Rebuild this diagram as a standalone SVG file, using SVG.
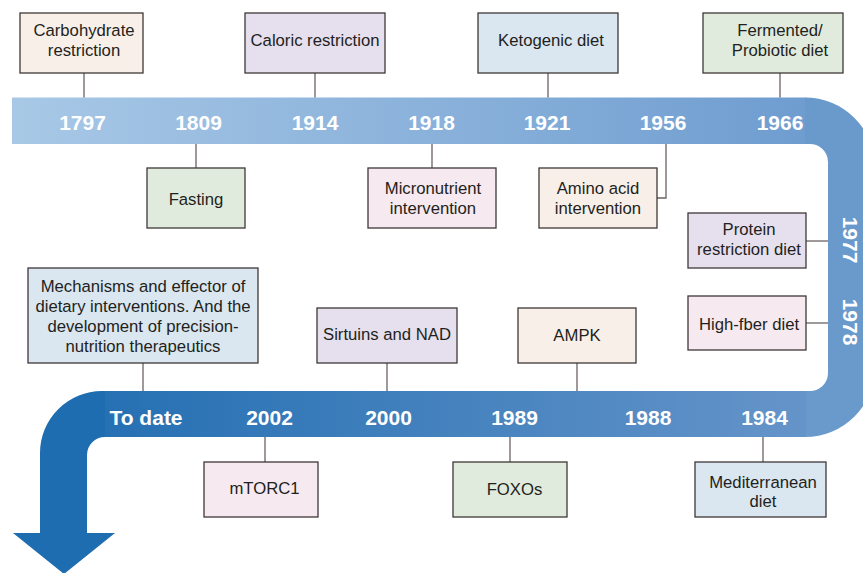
<svg xmlns="http://www.w3.org/2000/svg" width="863" height="573" viewBox="0 0 863 573">
<defs>
<linearGradient id="gTop" x1="12" y1="0" x2="805" y2="0" gradientUnits="userSpaceOnUse">
<stop offset="0" stop-color="#a8c8e6"/>
<stop offset="1" stop-color="#6f9dd0"/>
</linearGradient>
<linearGradient id="gBot" x1="805" y1="0" x2="100" y2="0" gradientUnits="userSpaceOnUse">
<stop offset="0" stop-color="#6594c9"/>
<stop offset="1" stop-color="#2570b3"/>
</linearGradient>
<style>
.box{stroke:#3f3838;stroke-width:1.3}
.peach{fill:#f8efe9}.lav{fill:#e6dfee}.green{fill:#e0ebdd}.pink{fill:#f6e9ef}.blue{fill:#dae6f0}
.t{font-family:"Liberation Sans",Arial,sans-serif;font-size:16.7px;fill:#231f20;text-anchor:middle}
.yr{font-family:"Liberation Sans",Arial,sans-serif;font-size:21px;font-weight:bold;fill:#ffffff;text-anchor:middle}
.con{stroke:#6b6262;stroke-width:1.3;fill:none}
</style>
</defs>
<g id="timeline">
<rect x="12" y="97.5" width="794" height="46.5" fill="url(#gTop)"/>
<path d="M805,97.5 A70,70 0 0 1 875,167.5 L875,367 A70,70 0 0 1 805,437 L805,391 L810,391 A18,18 0 0 0 828,373 L828,162 A18,18 0 0 0 810,144 L805,144 Z" fill="#6a99cc"/>
<rect x="100" y="391" width="706" height="46" fill="url(#gBot)"/>
<path d="M105,391 L105,437 A18,18 0 0 0 87,455 L87,533 L115,533 L64,574 L13,533 L40,533 L40,453 A62,62 0 0 1 102,391 Z" fill="#1f6db1"/>
</g>
<g id="years">
<text class="yr" x="82.5" y="129.5">1797</text>
<text class="yr" x="198.5" y="129.5">1809</text>
<text class="yr" x="315" y="129.5">1914</text>
<text class="yr" x="431.5" y="129.5">1918</text>
<text class="yr" x="547" y="129.5">1921</text>
<text class="yr" x="663" y="129.5">1956</text>
<text class="yr" x="780" y="129.5">1966</text>
<text class="yr" transform="translate(843,240) rotate(90)" x="0" y="0">1977</text>
<text class="yr" transform="translate(843,322) rotate(90)" x="0" y="0">1978</text>
<text class="yr" x="764.5" y="425">1984</text>
<text class="yr" x="648" y="425">1988</text>
<text class="yr" x="514.5" y="425">1989</text>
<text class="yr" x="388.5" y="425">2000</text>
<text class="yr" x="269.5" y="425">2002</text>
<text class="yr" x="146" y="425">To date</text>
</g>
<g id="connectors">
<line class="con" x1="84" y1="73" x2="84" y2="97.5"/>
<line class="con" x1="315" y1="73" x2="315" y2="97.5"/>
<line class="con" x1="548" y1="73" x2="548" y2="97.5"/>
<line class="con" x1="780" y1="73" x2="780" y2="97.5"/>
<line class="con" x1="196" y1="144" x2="196" y2="168"/>
<line class="con" x1="432" y1="144" x2="432" y2="168"/>
<polyline class="con" points="666,144 666,198 657,198"/>
<line class="con" x1="806" y1="241" x2="828" y2="241"/>
<line class="con" x1="806" y1="323" x2="828" y2="323"/>
<line class="con" x1="143" y1="363" x2="143" y2="391"/>
<line class="con" x1="387" y1="363" x2="387" y2="391"/>
<line class="con" x1="577" y1="363" x2="577" y2="391"/>
<line class="con" x1="265" y1="437" x2="265" y2="462"/>
<line class="con" x1="510" y1="437" x2="510" y2="462"/>
<line class="con" x1="763" y1="437" x2="763" y2="462"/>
</g>
<g id="n-carbohydrate">
<rect class="box peach" x="20" y="13" width="123" height="60"/>
<text class="t" x="84" y="36">Carbohydrate</text>
<text class="t" x="84" y="56">restriction</text>
</g>
<g id="n-caloric">
<rect class="box lav" x="245" y="13" width="140" height="60"/>
<text class="t" x="315" y="45.5">Caloric restriction</text>
</g>
<g id="n-ketogenic">
<rect class="box blue" x="478" y="13" width="140" height="60"/>
<text class="t" x="551" y="45.5">Ketogenic diet</text>
</g>
<g id="n-fermented">
<rect class="box green" x="703" y="13" width="140" height="60"/>
<text class="t" x="780" y="36">Fermented/</text>
<text class="t" x="780" y="56">Probiotic diet</text>
</g>
<g id="n-fasting">
<rect class="box green" x="147" y="168" width="98" height="60"/>
<text class="t" x="196" y="204.5">Fasting</text>
</g>
<g id="n-micronutrient">
<rect class="box pink" x="368" y="168" width="128" height="60"/>
<text class="t" x="433" y="193.5">Micronutrient</text>
<text class="t" x="433" y="213.5">intervention</text>
</g>
<g id="n-amino">
<rect class="box peach" x="539" y="168" width="118" height="60"/>
<text class="t" x="598" y="193.5">Amino acid</text>
<text class="t" x="598" y="213.5">intervention</text>
</g>
<g id="n-protein">
<rect class="box lav" x="688" y="213" width="118" height="55"/>
<text class="t" x="749" y="235">Protein</text>
<text class="t" x="749" y="254.5">restriction diet</text>
</g>
<g id="n-fiber">
<rect class="box pink" x="688" y="296" width="118" height="54"/>
<text class="t" x="749" y="329.5">High-fber diet</text>
</g>
<g id="n-mechanisms">
<rect class="box blue" x="28" y="268" width="230" height="95"/>
<text class="t" x="143" y="292.3">Mechanisms and effector of</text>
<text class="t" x="143" y="312.3">dietary interventions. And the</text>
<text class="t" x="143" y="332.3">development of precision-</text>
<text class="t" x="143" y="352.3">nutrition therapeutics</text>
</g>
<g id="n-sirtuins">
<rect class="box lav" x="317" y="308" width="140" height="55"/>
<text class="t" x="387" y="340">Sirtuins and NAD</text>
</g>
<g id="n-ampk">
<rect class="box peach" x="518" y="308" width="118" height="55"/>
<text class="t" x="577" y="341">AMPK</text>
</g>
<g id="n-mtorc1">
<rect class="box pink" x="204" y="462" width="114" height="55"/>
<text class="t" x="264.5" y="493.5">mTORC1</text>
</g>
<g id="n-foxos">
<rect class="box green" x="453" y="462" width="114" height="55"/>
<text class="t" x="514.5" y="495">FOXOs</text>
</g>
<g id="n-mediterranean">
<rect class="box blue" x="695" y="462" width="131" height="55"/>
<text class="t" x="763" y="487.5">Mediterranean</text>
<text class="t" x="763" y="507">diet</text>
</g>
</svg>
